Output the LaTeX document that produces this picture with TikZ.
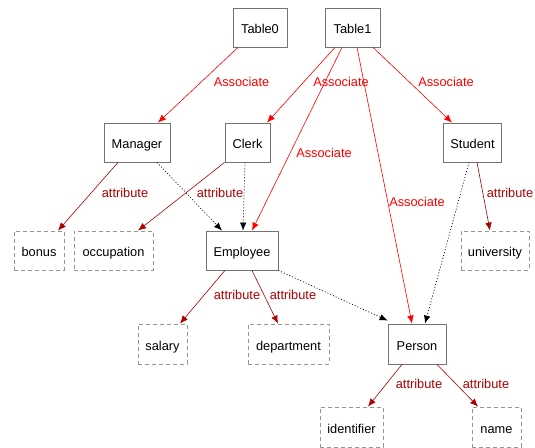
\documentclass[tikz,border=0pt]{standalone}
\usepackage{fontspec}
\setmainfont{Liberation Sans}
\usetikzlibrary{arrows.meta}
\definecolor{boxgray}{RGB}{115,115,115}
\definecolor{dashgray}{RGB}{150,150,150}
\definecolor{attrred}{RGB}{170,0,0}
\definecolor{assocred}{RGB}{255,0,0}
\tikzset{
  every node/.style={font=\fontsize{12.8}{15}\selectfont},
  cls/.style={draw=boxgray, line width=0.8pt, minimum height=39pt, inner sep=0pt, text height=12pt, text depth=0pt, fill=white},
  attrbox/.style={draw=dashgray, line width=0.8pt, dash pattern=on 4pt off 3pt, minimum height=39pt, inner sep=0pt, text height=12pt, text depth=0pt, fill=white},
  assoc/.style={draw=assocred, line width=0.6pt, -{Latex[length=8pt,width=6.5pt]}},
  attr/.style={draw=attrred, line width=0.6pt, -{Latex[length=8pt,width=6.5pt]}},
  inh/.style={draw=black, line width=0.7pt, dash pattern=on 1pt off 2pt, -{Latex[length=8pt,width=6.5pt,fill=black]}},
  assoclbl/.style={text=assocred, inner sep=0pt},
  attrlbl/.style={text=attrred, inner sep=0pt},
}
\begin{document}
\begin{tikzpicture}[x=1pt,y=-1pt]
\useasboundingbox (0,0) rectangle (535,447);
% class nodes
\node[cls, minimum width=54pt] (T0) at (260,27.5) {Table0};
\node[cls, minimum width=55pt] (T1) at (352.5,27.5) {Table1};
\node[cls, minimum width=66pt] (Man) at (137,142.5) {Manager};
\node[cls, minimum width=45pt] (Clk) at (247.5,142.5) {Clerk};
\node[cls, minimum width=58pt] (Stu) at (472.5,142.5) {Student};
\node[cls, minimum width=72pt] (Emp) at (242,250.5) {Employee};
\node[cls, minimum width=58pt, minimum height=40pt] (Per) at (417,344) {Person};
% attribute nodes
\node[attrbox, minimum width=50pt] (bon) at (39,250.5) {bonus};
\node[attrbox, minimum width=79pt] (occ) at (113.5,250.5) {occupation};
\node[attrbox, minimum width=68pt] (uni) at (495,250.5) {university};
\node[attrbox, minimum width=49pt, minimum height=40pt] (sal) at (162.5,344) {salary};
\node[attrbox, minimum width=81pt, minimum height=40pt] (dep) at (288.5,344) {department};
\node[attrbox, minimum width=63pt, minimum height=40pt] (idf) at (351.5,427) {identifier};
\node[attrbox, minimum width=49pt, minimum height=40pt] (nam) at (496.5,427) {name};
% associate edges
\draw[assoc] ([xshift=-22pt]T0.south) -- ([xshift=21pt]Man.north);
\draw[assoc] ([xshift=-17.5pt]T1.south) -- ([xshift=19.5pt]Clk.north);
\draw[assoc] ([xshift=-10.5pt]T1.south) -- ([xshift=10pt]Emp.north);
\draw[assoc] ([xshift=4.5pt]T1.south) -- ([xshift=-5pt]Per.north);
\draw[assoc] ([xshift=20.5pt]T1.south) -- ([xshift=-20.5pt]Stu.north);
% attribute edges
\draw[attr] ([xshift=-19pt]Man.south) -- ([xshift=19pt]bon.north);
\draw[attr] (Clk.south west) -- ([xshift=24.5pt]occ.north);
\draw[attr] ([xshift=4.5pt]Stu.south) -- ([xshift=-5pt]uni.north);
\draw[attr] ([xshift=-17pt]Emp.south) -- ([xshift=17.5pt]sal.north);
\draw[attr] ([xshift=10pt]Emp.south) -- ([xshift=-10.5pt]dep.north);
\draw[attr] ([xshift=-15pt]Per.south) -- ([xshift=16.5pt]idf.north);
\draw[attr] ([xshift=20pt]Per.south) -- ([xshift=-18.5pt]nam.north);
% inheritance edges
\draw[inh] ([xshift=20pt]Man.south) -- ([xshift=-20pt]Emp.north);
\draw[inh] ([xshift=-2.5pt]Clk.south) -- ([xshift=1pt]Emp.north);
\draw[inh] ([xshift=-3.5pt]Stu.south) -- ([xshift=8pt]Per.north);
\draw[inh] (Emp.south east) -- ([yshift=3pt]Per.north west);
% labels
\node[assoclbl] (l1) at (241.5,82) {Associate};
\node[assoclbl] (l2) at (341,82) {Associate};
\node[assoclbl] (l3) at (446,82) {Associate};
\node[assoclbl] (l4) at (324,153) {Associate};
\node[assoclbl] (l5) at (417,202) {Associate};
\node[attrlbl] (l6) at (125,193) {attribute};
\node[attrlbl] (l7) at (220,193) {attribute};
\node[attrlbl] (l8) at (510,193) {attribute};
\node[attrlbl] (l9) at (237,295) {attribute};
\node[attrlbl] (l10) at (293,295) {attribute};
\node[attrlbl] (l11) at (419,384) {attribute};
\node[attrlbl] (l12) at (486,384) {attribute};
\end{tikzpicture}
\end{document}
